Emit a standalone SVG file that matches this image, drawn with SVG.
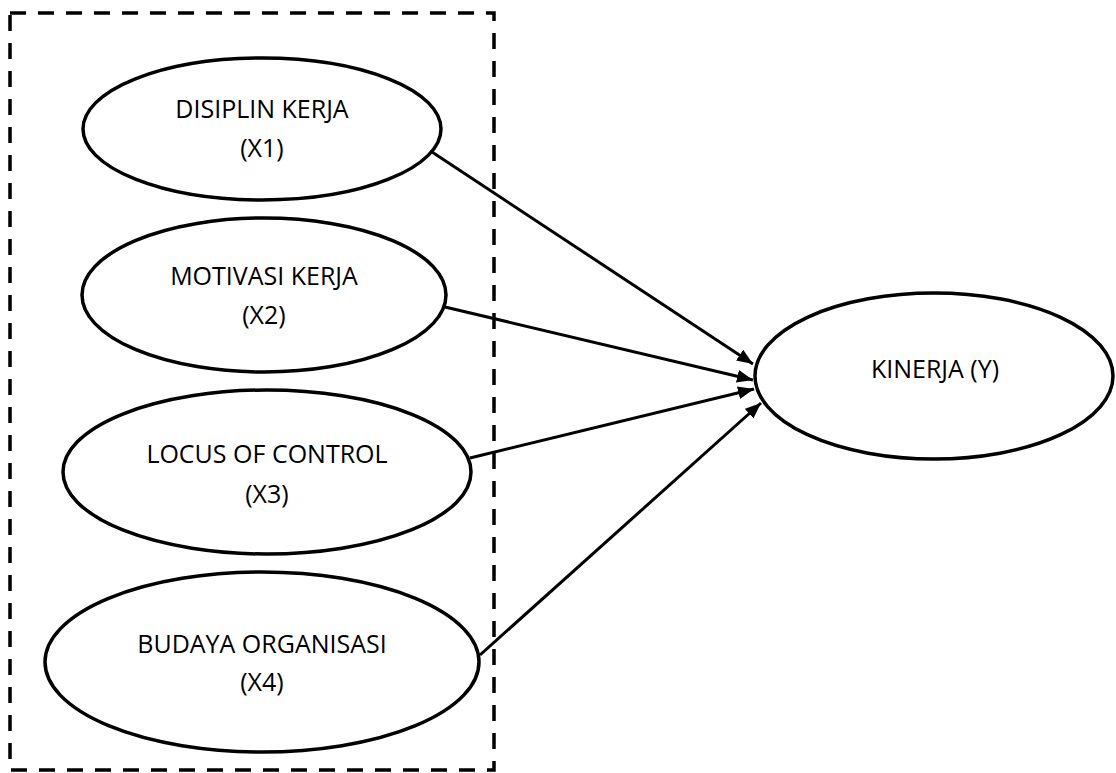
<svg xmlns="http://www.w3.org/2000/svg" width="1116" height="773" viewBox="0 0 1116 773">
  <style>
    .node { fill: #ffffff; stroke: #000000; stroke-width: 3.5; }
    .lbl { font-family: "Open Sans", "Liberation Sans", sans-serif; font-size: 25px; fill: #000000; text-anchor: middle; }
    .conn { stroke: #000000; stroke-width: 3; fill: none; marker-end: url(#arrow); }
    .frame { fill: none; stroke: #000000; stroke-width: 3.5; stroke-dasharray: 16 12; }
  </style>
  <defs>
    <marker id="arrow" markerUnits="userSpaceOnUse" markerWidth="18" markerHeight="14" refX="16" refY="6.5" orient="auto">
      <path d="M0,0 L16,6.5 L0,13 z" fill="#000000"/>
    </marker>
  </defs>
  <rect width="1116" height="773" fill="#ffffff"/>
  <rect id="frame" class="frame" x="10" y="13" width="484" height="757"/>

  <g id="connectors">
    <line class="conn" x1="432" y1="152" x2="753" y2="364"/>
    <line class="conn" x1="445" y1="307" x2="753" y2="380"/>
    <line class="conn" x1="470" y1="458" x2="754" y2="389"/>
    <line class="conn" x1="480" y1="655" x2="761" y2="403"/>
  </g>

  <g id="x1">
    <ellipse class="node" cx="262" cy="129" rx="179" ry="71"/>
    <text class="lbl" x="262" y="118">DISIPLIN KERJA</text>
    <text class="lbl" x="262" y="157">(X1)</text>
  </g>
  <g id="x2">
    <ellipse class="node" cx="264" cy="295" rx="182" ry="77"/>
    <text class="lbl" x="264" y="285">MOTIVASI KERJA</text>
    <text class="lbl" x="264" y="324">(X2)</text>
  </g>
  <g id="x3">
    <ellipse class="node" cx="267" cy="472" rx="204" ry="82"/>
    <text class="lbl" x="267" y="463">LOCUS OF CONTROL</text>
    <text class="lbl" x="267" y="503">(X3)</text>
  </g>
  <g id="x4">
    <ellipse class="node" cx="262" cy="662" rx="217" ry="90"/>
    <text class="lbl" x="262" y="653">BUDAYA ORGANISASI</text>
    <text class="lbl" x="262" y="691">(X4)</text>
  </g>
  <g id="y">
    <ellipse class="node" cx="934" cy="376" rx="179" ry="83"/>
    <text class="lbl" x="935" y="378">KINERJA (Y)</text>
  </g>
</svg>
